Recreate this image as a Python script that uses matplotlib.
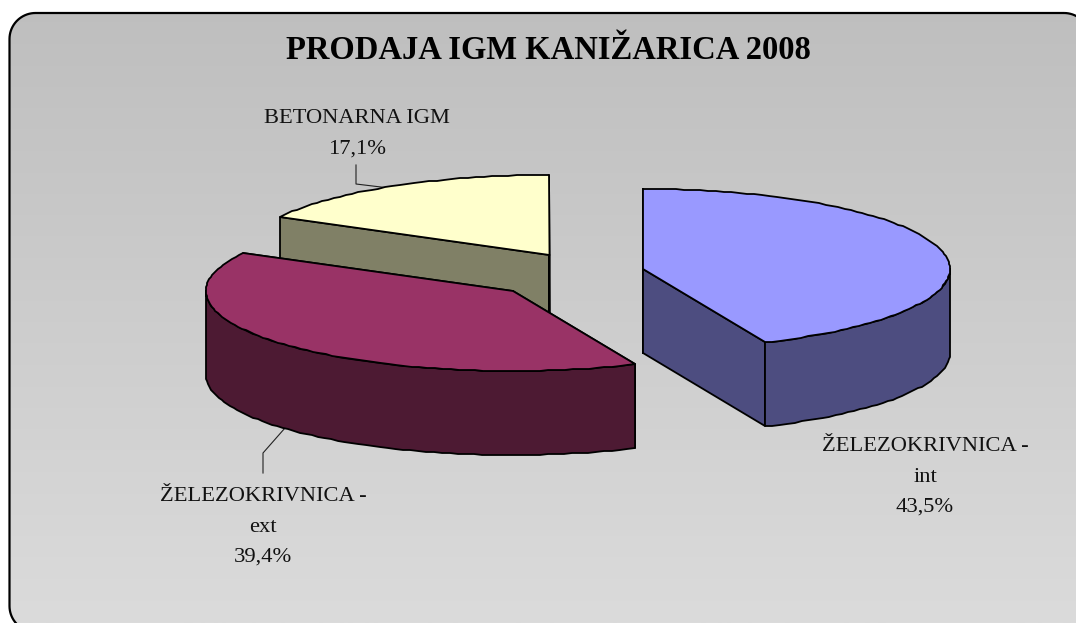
import numpy as np
import matplotlib
matplotlib.use("Agg")
import matplotlib.pyplot as plt
from matplotlib.colors import LinearSegmentedColormap
from matplotlib.patches import Polygon

plt.rcParams['font.family'] = ['Liberation Serif', 'DejaVu Serif']

title = "PRODAJA IGM KANIŽARICA 2008"
names = ["ŽELEZOKRIVNICA -\nint", "ŽELEZOKRIVNICA -\next", "BETONARNA IGM"]
shares = [43.5, 39.4, 17.1]
top_colors = ["#9999FF", "#993366", "#FFFFCC"]
side_colors = ["#4D4D80", "#4D1A33", "#808066"]

# pie centres after the explode, in pixels
centers = [(643, 269), (513, 291), (549.5, 255)]
label_pos = [(925, 477), (263, 527), (357, 134)]
RX, RY, DEPTH = 307, 80, 84

fig = plt.figure(figsize=(10.76, 6.23), dpi=100, facecolor="white")
ax = fig.add_axes([0, 0, 1, 1])
ax.axis("off")


def rounded_box(x0, y0, x1, y1, r):
    # plain polyline, curves get mangled when the edge runs off the canvas
    pts = []
    for cx, cy, start in [(x1 - r, y0 + r, -90), (x1 - r, y1 - r, 0), (x0 + r, y1 - r, 90), (x0 + r, y0 + r, 180)]:
        t = np.radians(np.linspace(start, start + 90, 20))
        pts.append(np.column_stack([cx + r * np.cos(t), cy + r * np.sin(t)]))
    return np.vstack(pts)


# background panel runs off the right and bottom of the picture
panel = Polygon(rounded_box(9.5, 13, 1090, 632, 26), fc="none", ec="black", lw=1.6, zorder=2)
ax.add_patch(panel)
grad = np.linspace(0, 1, 256).reshape(-1, 1)
im = ax.imshow(grad, extent=(0, 1076, 623, 0), aspect="auto", zorder=1,
               cmap=LinearSegmentedColormap.from_list("g", ["#BEBEBE", "#DBDBDB"]))
im.set_clip_path(panel)
ax.set_xlim(0, 1076)
ax.set_ylim(623, 0)


def rim(cx, cy, a, b, dy=0):
    # whole pixels give the slightly bumpy outline
    t = np.radians(np.linspace(a, b, max(int(abs(b - a) / 1.5), 2)))
    return np.round(np.column_stack([cx + RX * np.sin(t), cy - RY * np.cos(t) + dy]))


def draw_slice(cx, cy, a, b, top, side, z):
    # radial walls
    for ang in (a, b):
        p = rim(cx, cy, ang, ang)[0]
        wall = [(cx, cy), p, (p[0], p[1] + DEPTH), (cx, cy + DEPTH)]
        ax.add_patch(Polygon(wall, fc=side, ec="black", lw=1.3, zorder=z, joinstyle="round"))
    # outer wall, only the front half of the rim
    lo, hi = max(a, 90), min(b, 270)
    if hi > lo:
        front = rim(cx, cy, lo, hi)
        back = rim(cx, cy, lo, hi, DEPTH)[::-1]
        ax.add_patch(Polygon(np.vstack([front, back]), fc=side, ec="black", lw=1.3,
                             zorder=z + 0.1, joinstyle="round"))
    face = np.vstack([[(cx, cy)], rim(cx, cy, a, b)])
    ax.add_patch(Polygon(face, fc=top, ec="black", lw=1.3, zorder=z + 0.2, joinstyle="round"))


angles = np.concatenate([[0], np.cumsum(shares) * 3.6])
for i in [2, 1, 0]:
    cx, cy = centers[i]
    draw_slice(cx, cy, angles[i], angles[i + 1], top_colors[i], side_colors[i], 5 + (2 - i))

# leader lines
ax.plot([356, 356, 385], [165, 184, 187.5], color="#222222", lw=0.8, zorder=4)
ax.plot([263, 263, 285], [473, 453, 428], color="#222222", lw=0.8, zorder=4)

ax.text(548, 50.5, title, ha="center", va="center", fontsize=23.5, fontweight="bold", color="black", zorder=10)
for name, share, (x, y) in zip(names, shares, label_pos):
    s = name + "\n" + f"{share:.1f}".replace(".", ",") + "%"
    ax.text(x, y, s, ha="center", va="center", fontsize=16.2, color="#111111",
            linespacing=1.8, zorder=10)

fig.savefig("out.png", dpi=100)
